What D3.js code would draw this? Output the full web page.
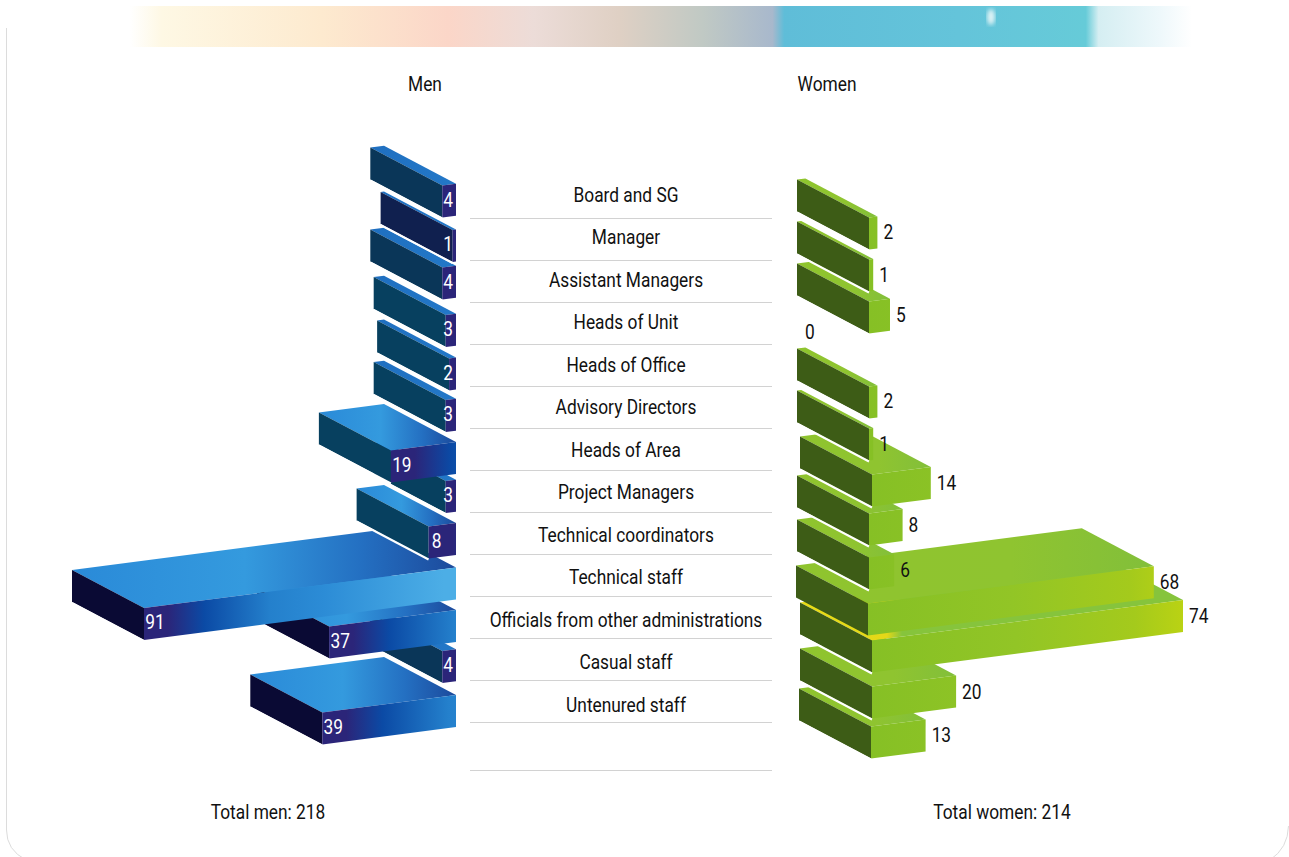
<!DOCTYPE html>
<html>
<head>
<meta charset="utf-8">
<title>Staff by category and sex</title>
<script src="https://cdn.jsdelivr.net/npm/d3@7"></script>
<style>
  html, body { margin: 0; padding: 0; background: #fff; }
  svg { display: block; }
  text { font-family: Roboto, "Liberation Sans", sans-serif; font-size: 21px; fill: #111; }
</style>
</head>
<body>
<svg id="chart" width="1289" height="857"></svg>
<script>
// Staff counts per category
const categories = ["Board and SG", "Manager", "Assistant Managers", "Heads of Unit", "Heads of Office",
  "Advisory Directors", "Heads of Area", "Project Managers", "Technical coordinators", "Technical staff",
  "Officials from other administrations", "Casual staff", "Untenured staff"];
const menValues = [4, 1, 4, 3, 2, 3, 19, 3, 8, 91, 37, 4, 39];
const womenValues = [2, 1, 5, 0, 2, 1, 14, 8, 6, 68, 74, 20, 13];
const headings = ["Men", "Women"];
const totals = ["Total men: 218", "Total women: 214"];

// Layout of the isometric blocks
const depthX = 72, depthY = 38, blockH = 32, rise = -0.13;
// Vertical offset of each block's front-lower corner from its row, men then women
const menRowShift = [23, 25, 20, 25, 26, 25, 33, 21, 24, 63, 39, 21, 40];
const womenRowShift = [55, 54.5, 54, 54, 54, 53.5, 57, 53.5, 55, 58.5, 53, 56.5, 54];
// Small sideways offset of each women's block from the common baseline
const womenRowNudge = [-1, -1, -1, -1, -1, -1, 2, -1, -1, -2, 2, 2, 1];
// Painting order for the men's side, rearmost block first
const menPaintOrder = [11, 10, 12, 9, 8, 7, 6, 5, 4, 3, 2, 1, 0];
// Horizontal squeeze that gives the labels their condensed look
const squeeze = 0.825;

const svg = d3.select("#chart");
const defs = svg.append("defs");

const rowY = d3.scalePoint().domain(categories).range([194.5, 704.5]);
const sepY = d3.scalePoint().domain(categories).range([218.5, 722.5]);
const menX = d3.scaleLinear().domain([0, 91]).range([456, 144]);
const womenX = d3.scaleLinear().domain([0, 74]).range([870, 1181]);

// Places a text selection with the squeeze applied around its anchor
function place(sel, xf, yf) {
  return sel.attr("transform", (d, i) => `translate(${xf(d, i)},${yf(d, i)}) scale(${squeeze},1)`)
    .attr("dominant-baseline", "central");
}

// ---- frame and banner ----
svg.append("path")
  .attr("d", "M6.5,28 V830 Q6.5,850 26,860 M1288.5,826 Q1288,848 1270,860")
  .attr("fill", "none").attr("stroke", "#dcdcdc").attr("stroke-width", 1);

const bannerGrad = defs.append("linearGradient").attr("id", "banner");
const bannerStops = [[0, "#ffffff"], [.03, "#fef8e4"], [.18, "#fdeacf"], [.3, "#fbd6c8"], [.38, "#ecdcd8"],
  [.46, "#dfd0c4"], [.54, "#c0c9c4"], [.605, "#a8b8cc"], [.616, "#5fbdd8"], [.78, "#64c4da"], [.9, "#66cbd8"],
  [.912, "#d5eef2"], [.97, "#eef8fb"], [1, "#ffffff"]];
bannerGrad.selectAll("stop").data(bannerStops).join("stop")
  .attr("offset", d => d[0]).attr("stop-color", d => d[1]);
svg.append("rect").attr("x", 130).attr("y", 6).attr("width", 1062).attr("height", 41).attr("fill", "url(#banner)");
defs.append("filter").attr("id", "soft").append("feGaussianBlur").attr("stdDeviation", 2);
svg.append("ellipse").attr("cx", 991).attr("cy", 17).attr("rx", 4).attr("ry", 8)
  .attr("fill", "#dff3f6").attr("filter", "url(#soft)");

// ---- row labels and separators ----
svg.append("g").selectAll("line").data(categories).join("line")
  .attr("x1", 470).attr("x2", 772)
  .attr("y1", d => sepY(d)).attr("y2", d => sepY(d))
  .attr("stroke", "#d2d2d2");
svg.append("line").attr("x1", 470).attr("x2", 772).attr("y1", 770.5).attr("y2", 770.5).attr("stroke", "#d2d2d2");

svg.append("g").selectAll("text").data(categories).join("text")
  .attr("text-anchor", "middle")
  .call(place, () => 626, d => rowY(d))
  .text(d => d);

const captions = [
  [headings[0], 425, 83.5], [headings[1], 827, 83.5],
  [totals[0], 268, 811.5], [totals[1], 1002, 811.5]
];
svg.append("g").selectAll("text").data(captions).join("text")
  .attr("text-anchor", "middle")
  .call(place, d => d[1], d => d[2])
  .text(d => d[0]);

// ---- block drawing ----
const poly = pts => pts.map(p => p.map(n => n.toFixed(1)).join(",")).join(" ");

function addGradient(id, x1, x2, stops) {
  const g = defs.append("linearGradient").attr("id", id)
    .attr("gradientUnits", "userSpaceOnUse")
    .attr("x1", x1).attr("x2", x2).attr("y1", 0).attr("y2", 0);
  g.selectAll("stop").data(stops).join("stop")
    .attr("offset", d => d[0]).attr("stop-color", d => d[1]);
  return `url(#${id})`;
}

// One block: the left end of its front face sits at (xLeft, bottom) and the
// face runs to xRight, with the side and top receding up and to the left
function drawBlock(layer, id, xLeft, xRight, bottom, fills) {
  const bFar = bottom + rise * (xRight - xLeft);
  const tNear = bottom - blockH;
  const tFar = bFar - blockH;
  const g = layer.append("g").attr("class", id);

  g.append("polygon").attr("points", poly([
    [xLeft, tNear], [xRight, tFar], [xRight - depthX, tFar - depthY], [xLeft - depthX, tNear - depthY]
  ])).attr("fill", fills.top);

  g.append("polygon").attr("points", poly([
    [xLeft - depthX, tNear - depthY], [xLeft, tNear], [xLeft, bottom], [xLeft - depthX, bottom - depthY]
  ])).attr("fill", fills.side);

  g.append("polygon").attr("points", poly([
    [xLeft, tNear], [xRight, tFar], [xRight, bFar], [xLeft, bottom]
  ])).attr("fill", fills.front);

  // Thin white seam that separates the block from the one below it
  if (!fills.noSeam) {
    g.append("line")
      .attr("x1", xLeft - depthX).attr("y1", bottom - depthY + 1)
      .attr("x2", xLeft).attr("y2", bottom + 1)
      .attr("stroke", "#fff").attr("stroke-width", 2);
  }
}

// ---- men ----
const menSide = v => v >= 30 ? "#0a0a34" : v === 1 ? "#10204f" : v === 4 ? "#0a3658" : "#07405f";
const men = svg.append("g").attr("id", "men");
menPaintOrder.forEach(i => {
  const v = menValues[i];
  const xL = menX(v), xR = menX(0);
  const bottom = rowY(categories[i]) + menRowShift[i];
  const front = addGradient("mf" + i, xL, xL + 300, [
    [0, "#2b2579"], [.08, "#2b2579"], [.2, "#0b4aa5"], [.42, "#2480cc"], [.6, "#2c8cd6"], [1, "#4caee6"]]);
  const top = addGradient("mt" + i, xL - depthX, xR, v >= 8
    ? [[0, "#2a8ad8"], [.45, "#349ade"], [.75, "#2470c2"], [1, "#1c4a9c"]]
    : [[0, "#1f6fc0"], [1, "#2378c8"]]);
  drawBlock(men, "men-" + i, xL, xR, bottom, { top, front, side: menSide(v) });
});
const menLabel = v => {
  const near = menX(v);
  return v >= 10 ? near + 11 : Math.min(near + 8, 448);
};
men.append("g").selectAll("text").data(menValues).join("text")
  .attr("text-anchor", "middle")
  .call(place, menLabel, (v, i) => rowY(categories[i]) + menRowShift[i] - 18)
  .style("fill", "#fff")
  .text(v => v);

// ---- women ----
const women = svg.append("g").attr("id", "women");
d3.range(categories.length - 1, -1, -1).forEach(i => {
  const v = womenValues[i];
  if (v === 0) return;
  const xL = womenX(0) + womenRowNudge[i], xR = womenX(v) + womenRowNudge[i];
  const bottom = rowY(categories[i]) + womenRowShift[i];
  const front = addGradient("wf" + i, xL, xL + 320, [
    [0, "#86c025"], [.45, "#92c526"], [.82, "#a4ca1c"], [1, "#bed412"]]);
  const top = v === 74
    ? addGradient("wt" + i, xL - depthX, xL + 30, [[0, "#e8dc16"], [.85, "#e4d818"], [1, "#86c43c"]])
    : addGradient("wt" + i, xL - depthX, xR, [[0, "#8fc42e"], [.6, "#8fc430"], [1, "#82bf3a"]]);
  // The tallest pair sits flush, so no seam between Technical staff and the block below
  drawBlock(women, "women-" + i, xL, xR, bottom, { top, front, side: "#3d5c16", noSeam: v === 68 });
});
women.append("g").selectAll("text").data(womenValues).join("text")
  .call(place,
    (v, i) => v === 0 ? womenX(0) - depthX + 7 : womenX(v) + womenRowNudge[i] + 6,
    (v, i) => {
      const b = rowY(categories[i]) + womenRowShift[i];
      return v === 0 ? rowY(categories[i]) + 10 : b + rise * (womenX(v) - womenX(0)) - 16;
    })
  .text(v => v);
</script>
</body>
</html>
